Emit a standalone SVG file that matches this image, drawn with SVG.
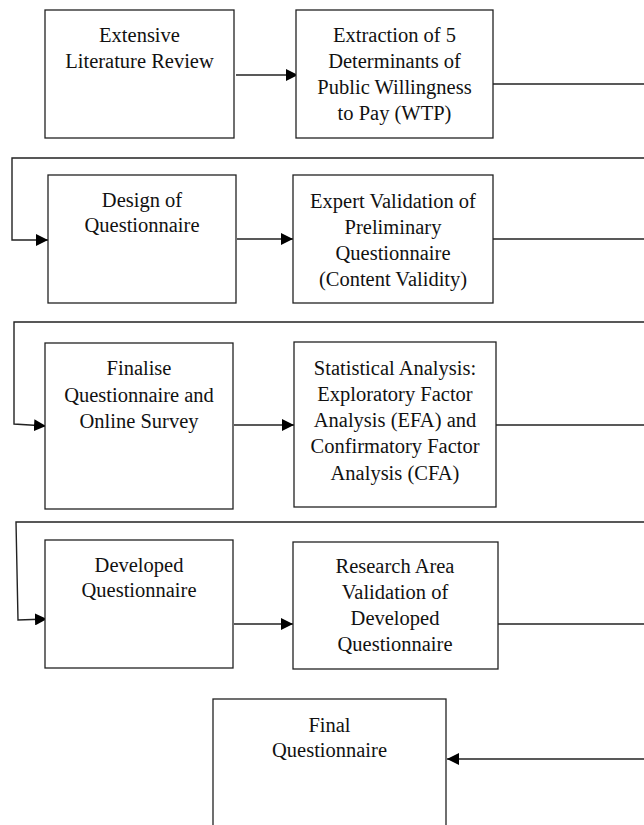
<svg xmlns="http://www.w3.org/2000/svg" width="644" height="825" viewBox="0 0 644 825">
<style>
.box{fill:#fff;stroke:#222;stroke-width:1.3}
.ln{fill:none;stroke:#222;stroke-width:1.4}
.t{font-family:"Liberation Serif","DejaVu Serif",serif;font-size:20.5px;fill:#111;text-anchor:middle}
</style>
<defs>
<marker id="ah" viewBox="0 0 12 12" refX="12" refY="6" markerWidth="12" markerHeight="12" markerUnits="userSpaceOnUse" orient="auto">
<path d="M0,0 L12,6 L0,12 Z" fill="#000"/>
</marker>
</defs>
<rect width="644" height="825" fill="#fff"/>
<g id="connectors">
<line class="ln" x1="236" y1="75" x2="298" y2="75" marker-end="url(#ah)"/>
<polyline class="ln" points="493,84 644,84"/>
<polyline class="ln" points="644,158 12,158 12,240 48,240" marker-end="url(#ah)"/>
<line class="ln" x1="237" y1="239" x2="293" y2="239" marker-end="url(#ah)"/>
<polyline class="ln" points="493,239 644,239"/>
<polyline class="ln" points="644,322 14,322 14,424 46,426" marker-end="url(#ah)"/>
<line class="ln" x1="234" y1="425" x2="294" y2="425" marker-end="url(#ah)"/>
<polyline class="ln" points="496,425 644,425"/>
<polyline class="ln" points="644,522 16,522 18,620 47,619" marker-end="url(#ah)"/>
<line class="ln" x1="234" y1="624" x2="293" y2="624" marker-end="url(#ah)"/>
<polyline class="ln" points="498,624 644,624"/>
<line class="ln" x1="644" y1="759" x2="447" y2="759" marker-end="url(#ah)"/>
</g>
<g id="n1"><rect class="box" x="45" y="10" width="189" height="128"/>
<text class="t" x="139.5" y="42">Extensive</text><text class="t" x="139.5" y="68">Literature Review</text></g>
<g id="n2"><rect class="box" x="296" y="10" width="197" height="128"/>
<text class="t" x="394.5" y="42">Extraction of 5</text><text class="t" x="394.5" y="68">Determinants of</text><text class="t" x="394.5" y="94">Public Willingness</text><text class="t" x="394.5" y="120">to Pay (WTP)</text></g>
<g id="n3"><rect class="box" x="48" y="175" width="188" height="128"/>
<text class="t" x="142" y="207">Design of</text><text class="t" x="142" y="232">Questionnaire</text></g>
<g id="n4"><rect class="box" x="293" y="175" width="200" height="128"/>
<text class="t" x="393" y="208">Expert Validation of</text><text class="t" x="393" y="234">Preliminary</text><text class="t" x="393" y="260">Questionnaire</text><text class="t" x="393" y="286">(Content Validity)</text></g>
<g id="n5"><rect class="box" x="45" y="343" width="188" height="166"/>
<text class="t" x="139" y="375">Finalise</text><text class="t" x="139" y="402">Questionnaire and</text><text class="t" x="139" y="428">Online Survey</text></g>
<g id="n6"><rect class="box" x="294" y="342" width="202" height="165"/>
<text class="t" x="395" y="375">Statistical Analysis:</text><text class="t" x="395" y="401">Exploratory Factor</text><text class="t" x="395" y="427">Analysis (EFA) and</text><text class="t" x="395" y="453">Confirmatory Factor</text><text class="t" x="395" y="480">Analysis (CFA)</text></g>
<g id="n7"><rect class="box" x="45" y="540" width="188" height="128"/>
<text class="t" x="139" y="572">Developed</text><text class="t" x="139" y="597">Questionnaire</text></g>
<g id="n8"><rect class="box" x="293" y="542" width="205" height="127"/>
<text class="t" x="395" y="573">Research Area</text><text class="t" x="395" y="599">Validation of</text><text class="t" x="395" y="625">Developed</text><text class="t" x="395" y="651">Questionnaire</text></g>
<g id="n9"><rect class="box" x="213" y="699" width="233" height="140"/>
<text class="t" x="329.5" y="732">Final</text><text class="t" x="329.5" y="757">Questionnaire</text></g>
</svg>
